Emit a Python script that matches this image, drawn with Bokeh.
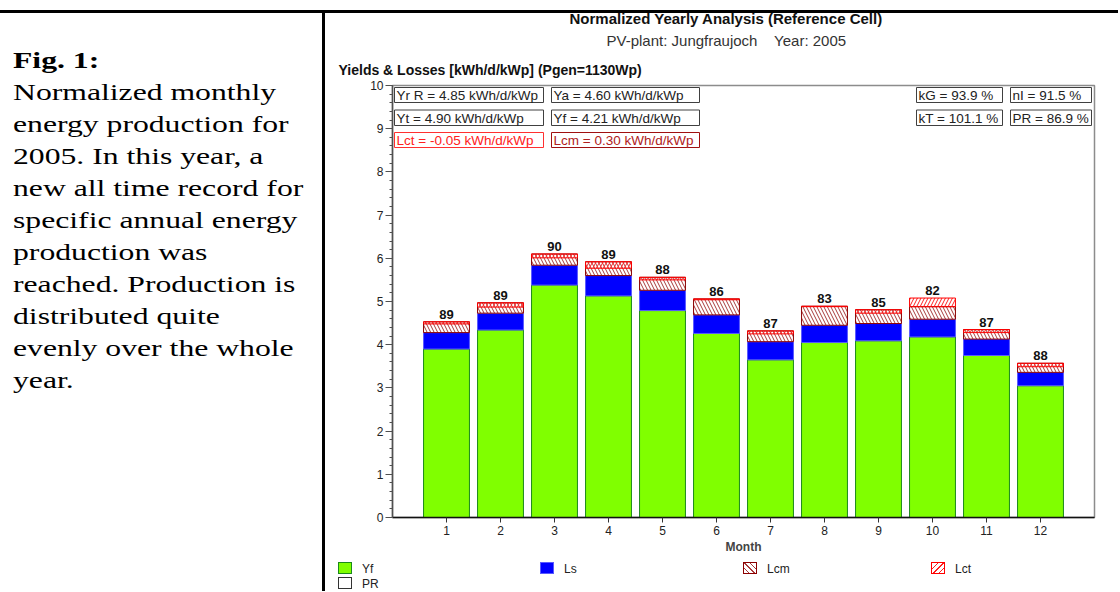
from bokeh.plotting import figure
from bokeh.models import (ColumnDataSource, Range1d, Title, Div,
                          FixedTicker, SingleIntervalTicker)
from bokeh.layouts import column, row
from bokeh.embed import file_html
from bokeh.resources import INLINE
from bokeh.core.properties import value

# ---------------- data ----------------
months = [1, 2, 3, 4, 5, 6, 7, 8, 9, 10, 11, 12]
yf = [3.90, 4.34, 5.38, 5.13, 4.79, 4.26, 3.65, 4.05, 4.09, 4.18, 3.75, 3.05]
ls = [0.38, 0.39, 0.46, 0.47, 0.47, 0.43, 0.42, 0.40, 0.40, 0.41, 0.38, 0.31]
lcm = [0.25, 0.24, 0.26, 0.32, 0.30, 0.37, 0.25, 0.44, 0.32, 0.29, 0.22, 0.21]
lct = [-0.05, -0.10, -0.09, -0.15, -0.06, -0.02, -0.07, -0.01, -0.08, 0.20, -0.07, -0.08]
pr = [89, 89, 90, 89, 88, 86, 87, 83, 85, 82, 87, 88]

month_ticks = [1, 2, 3, 4, 5, 6, 7, 8, 9, 10, 11, 12]
series_names = ["Yf", "Ls", "Lcm", "Lct", "PR"]

chart_title = "Normalized Yearly Analysis (Reference Cell)"
chart_subtitle = "PV-plant: Jungfraujoch\u00a0\u00a0\u00a0\u00a0Year: 2005"
y_title = "Yields & Losses [kWh/d/kWp] (Pgen=1130Wp)"
x_title = "Month"

info_texts = ["Yr R = 4.85 kWh/d/kWp", "Ya = 4.60 kWh/d/kWp", "kG = 93.9 %", "nI = 91.5 %",
              "Yt = 4.90 kWh/d/kWp", "Yf = 4.21 kWh/d/kWp", "kT = 101.1 %", "PR = 86.9 %",
              "Lct = -0.05 kWh/d/kWp", "Lcm = 0.30 kWh/d/kWp"]

caption_head = "Fig. 1:"
caption_lines = ["Normalized monthly", "energy production for", "2005. In this year, a",
                 "new all time record for", "specific annual energy", "production was",
                 "reached. Production is", "distributed quite", "evenly over the whole",
                 "year."]

# ---------------- derived stacks ----------------
ls_top = [a + b for a, b in zip(yf, ls)]
lcm_top = [a + b for a, b in zip(ls_top, lcm)]
lct_top = [a + b for a, b in zip(lcm_top, lct)]
label_y = [max(a, b) for a, b in zip(lcm_top, lct_top)]

src = ColumnDataSource(dict(month=months, yf=yf, ls_top=ls_top, lcm_top=lcm_top,
                            lct_top=lct_top, label_y=label_y,
                            pr_text=[str(v) for v in pr]))

FONT = "Liberation Sans"
BW = 0.85
C_YF, C_YF_LINE = "#80FF00", "#1a8a1a"
C_LS, C_LS_LINE = "#0000FF", "#5a5aff"
C_LCM_HATCH, C_LCM_LINE = "#a83a3a", "#8b0000"
C_LCT_HATCH, C_LCT_LINE = "#ff2020", "#ff0000"

# ---------------- chart figure ----------------
chart_rule = {
    "background-image": "linear-gradient(#000,#000)",
    "background-size": "793px 3px",
    "background-position": "0px 10px",
    "background-repeat": "no-repeat",
}
p = figure(width=793, height=556, x_range=Range1d(0, 13), y_range=Range1d(0, 10),
           output_backend="svg", toolbar_location=None, title=None,
           min_border_left=67, min_border_right=24, min_border_top=85, min_border_bottom=39,
           styles=chart_rule, margin=(0, 0, 0, 0))
p.border_fill_alpha = 0
p.background_fill_color = "white"
# page-pixel helper ranges for the info boxes inside the frame
p.extra_x_ranges = {"px": Range1d(392, 1094)}
p.extra_y_ranges = {"py": Range1d(517, 85)}

p.xgrid.visible = False
p.ygrid.visible = False
p.outline_line_color = "#8c8c8c"
p.outline_line_width = 1.5

p.xaxis.ticker = FixedTicker(ticks=month_ticks, minor_ticks=[])
p.yaxis.ticker = SingleIntervalTicker(interval=1, num_minor_ticks=5)
for ax in (p.xaxis[0], p.yaxis[0]):
    ax.major_label_text_font = FONT
    ax.major_label_text_font_size = "12px"
    ax.major_label_text_color = "#222222"
    ax.major_tick_in = 0
    ax.minor_tick_in = 0
p.yaxis.axis_line_color = "#505050"
p.yaxis.axis_line_width = 1.5
p.yaxis.major_tick_line_color = "#505050"
p.yaxis.minor_tick_line_color = "#505050"
p.yaxis.major_tick_out = 7
p.yaxis.minor_tick_out = 3
p.yaxis.major_label_standoff = 2
p.xaxis.axis_line_color = "#111111"
p.xaxis.axis_line_width = 1.5
p.xaxis.major_tick_line_color = "#333333"
p.xaxis.major_tick_out = 5
p.xaxis.major_label_standoff = 3
p.xaxis.axis_label = x_title
p.xaxis.axis_label_text_font = FONT
p.xaxis.axis_label_text_font_style = "bold"
p.xaxis.axis_label_text_font_size = "12px"
p.xaxis.axis_label_standoff = 2

p.vbar(x="month", width=BW, bottom=0, top="yf", source=src,
       fill_color=C_YF, line_color=C_YF_LINE, line_width=1)
p.vbar(x="month", width=BW, bottom="yf", top="ls_top", source=src,
       fill_color=C_LS, line_color=C_LS_LINE, line_width=1)
p.vbar(x="month", width=BW, bottom="ls_top", top="lcm_top", source=src,
       fill_color="white", hatch_pattern="left_diagonal_line", hatch_color=C_LCM_HATCH,
       hatch_scale=7, hatch_weight=1, line_color=C_LCM_LINE, line_width=1)
p.vbar(x="month", width=BW, bottom="lcm_top", top="lct_top", source=src,
       fill_alpha=0, hatch_pattern="right_diagonal_line", hatch_color=C_LCT_HATCH,
       hatch_scale=7, hatch_weight=1, line_color=C_LCT_LINE, line_width=1)

p.text(x="month", y="label_y", text="pr_text", source=src, text_align="center",
       text_baseline="bottom", y_offset=-3, text_font=value(FONT), text_font_style="bold",
       text_font_size="13px", text_color="#111111")

# info boxes (laid out in page pixels)
box_left = [394, 551, 916, 1010, 394, 551, 916, 1010, 394, 551]
box_right = [543, 699, 1002, 1091, 543, 699, 1002, 1091, 543, 699]
box_top = [87, 87, 87, 87, 109.5, 109.5, 109.5, 109.5, 132, 132]
box_bot = [102, 102, 102, 102, 125, 125, 125, 125, 147, 147]
box_line = ["#404040"] * 8 + ["#ff3030", "#a01010"]
box_text = ["#222222"] * 8 + ["#ff2020", "#b02020"]
bsrc = ColumnDataSource(dict(l=box_left, r=box_right, t=box_top, b=box_bot,
                             lc=box_line, tc=box_text, txt=info_texts,
                             tx=[v + 2 for v in box_left],
                             ty=[(a + b) / 2 + 0.5 for a, b in zip(box_top, box_bot)]))
p.quad(left="l", right="r", top="t", bottom="b", source=bsrc, fill_color="white",
       line_color="lc", line_width=1, x_range_name="px", y_range_name="py")
p.text(x="tx", y="ty", text="txt", source=bsrc, text_color="tc", text_baseline="middle",
       text_align="left", text_font=value(FONT), text_font_size="13.5px",
       x_range_name="px", y_range_name="py")

# titles (first added = closest to frame)
p.add_layout(Title(text=y_title, align="left", offset=-54, standoff=16,
                   text_font=FONT, text_font_style="bold", text_font_size="14px",
                   text_color="#111111"), "above")
p.add_layout(Title(text=chart_subtitle, align="left", offset=214, standoff=6,
                   text_font=FONT, text_font_style="normal", text_font_size="15px",
                   text_color="#333333"), "above")
p.add_layout(Title(text=chart_title, align="left", offset=177, standoff=0,
                   text_font=FONT, text_font_style="bold", text_font_size="15px",
                   text_color="#111111"), "above")

# ---------------- series legend (below the chart) ----------------
sw_left = [13, 215, 418, 606, 13]
sw_top = [6, 6, 6, 6, 21]
sw_style = [
    "background:%s;border:1px solid %s;" % (C_YF, C_YF_LINE),
    "background:%s;border:1px solid %s;" % (C_LS, C_LS_LINE),
    "background:#fff repeating-linear-gradient(45deg,#fff 0 3px,%s 3px 4px);"
    "border:1px solid %s;" % (C_LCM_HATCH, C_LCM_LINE),
    "background:#fff repeating-linear-gradient(-45deg,#fff 0 3px,%s 3px 4px);"
    "border:1px solid %s;" % (C_LCT_HATCH, C_LCT_LINE),
    "background:#fff;border:1px solid #333;",
]
leg_parts = []
for name, lx, ty, st in zip(series_names, sw_left, sw_top, sw_style):
    leg_parts.append('<div style="position:absolute;left:%dpx;top:%dpx;width:14px;'
                     'height:12px;%s"></div>' % (lx, ty, st))
    leg_parts.append('<div style="position:absolute;left:%dpx;top:%dpx;line-height:14px;">'
                     '%s</div>' % (lx + 24, ty, name))
leg_html = ('<div style="position:relative;width:793px;height:35px;overflow:hidden;'
            'font-family:\'Liberation Sans\',sans-serif;font-size:12px;color:#222;'
            'background:#fff;">' + "".join(leg_parts) + '</div>')
leg = Div(text=leg_html, width=793, height=35, margin=(0, 0, 0, 0))

# ---------------- caption (left cell) ----------------
cap_html = (
    '<div style="position:relative;width:325px;height:591px;overflow:hidden;background:#fff;">'
    '<div style="position:absolute;left:0;top:10px;width:325px;height:3px;background:#000;"></div>'
    '<div style="position:absolute;left:322px;top:10px;width:3px;height:581px;background:#000;"></div>'
    '<div style="position:absolute;left:13px;top:44px;font-family:\'Liberation Serif\',serif;'
    'font-size:24px;line-height:32px;color:#000;white-space:nowrap;'
    'transform:scaleX(1.32);transform-origin:0 0;">'
    '<b>' + caption_head + '</b><br>' + '<br>'.join(caption_lines) + '</div></div>'
)
cap = Div(text=cap_html, width=325, height=591, margin=(0, 0, 0, 0))

layout = row(cap, column(p, leg))
open("out.html", "w").write(file_html(layout, INLINE))
